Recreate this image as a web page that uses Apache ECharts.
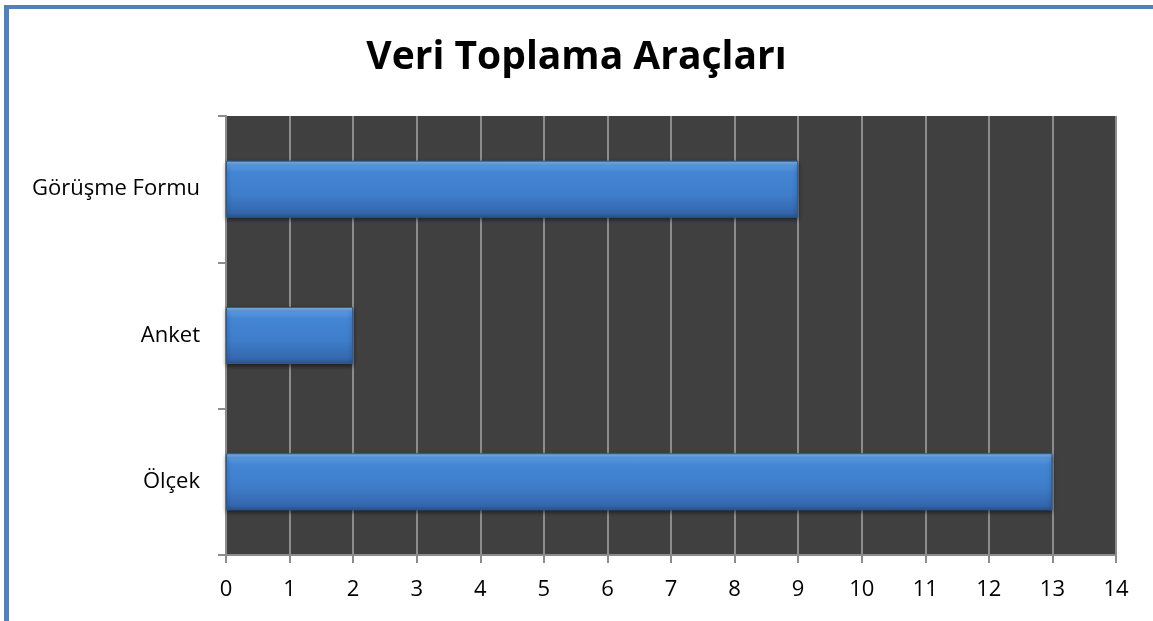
<!DOCTYPE html>
<html>
<head>
<meta charset="utf-8">
<script src="https://cdn.jsdelivr.net/npm/echarts@6/dist/echarts.min.js"></script>
<style>
  html, body { margin: 0; padding: 0; background: #fff; }
  #frame { position: absolute; left: 4px; top: 5px; width: 1149px; height: 616px;
           border-left: 5px solid #4f81bd; border-top: 4px solid #4f81bd; box-sizing: border-box; }
  #chart { position: absolute; left: 0; top: 0; width: 1153px; height: 621px; }
</style>
</head>
<body>
<div id="frame"></div>
<div id="chart"></div>
<script>
  // kategoriler alttan üste
  const categories = ['Ölçek', 'Anket', 'Görüşme Formu'];
  const values = [13, 2, 9];
  const xTicks = [0, 1, 2, 3, 4, 5, 6, 7, 8, 9, 10, 11, 12, 13, 14];

  const chart = echarts.init(document.getElementById('chart'));
  const option = {
    animation: false,
    title: {
      text: 'Veri Toplama Araçları',
      left: 'center',
      top: 33,
      textStyle: { fontFamily: 'Open Sans', fontWeight: 'bold', fontSize: 39, color: '#000' }
    },
    grid: { left: 226, top: 116, right: 37, bottom: 66, backgroundColor: '#404040', show: true, borderWidth: 0 },
    xAxis: {
      type: 'value',
      min: 0, max: 14, interval: 1,
      axisLine: { show: true, lineStyle: { color: '#8c8c8c', width: 2 } },
      axisTick: { show: true, length: 8, lineStyle: { color: '#8c8c8c', width: 2 } },
      splitLine: { show: true, lineStyle: { color: '#8c8c8c', width: 2 } },
      axisLabel: {
        margin: 24, fontSize: 22, fontFamily: 'Open Sans', color: '#000',
        formatter: v => String(xTicks[v])
      }
    },
    yAxis: {
      type: 'category',
      data: categories,
      axisLine: { show: true, lineStyle: { color: '#8c8c8c', width: 2 } },
      axisTick: { show: true, length: 8, lineStyle: { color: '#8c8c8c', width: 2 } },
      axisLabel: { margin: 26, fontSize: 22, fontFamily: 'Open Sans', color: '#000' }
    },
    series: [{
      type: 'bar',
      data: values,
      barWidth: '39%',
      itemStyle: {
        color: new echarts.graphic.LinearGradient(0, 0, 0, 1, [
          { offset: 0, color: '#8cc0f4' },
          { offset: 0.08, color: '#5b9be3' },
          { offset: 0.2, color: '#4486d4' },
          { offset: 0.6, color: '#3e7dca' },
          { offset: 0.9, color: '#3468ae' },
          { offset: 1, color: '#2a5690' }
        ]),
        borderColor: '#2b5a96',
        borderWidth: 1,
        shadowColor: 'rgba(0,0,0,0.5)',
        shadowBlur: 4,
        shadowOffsetY: 2
      }
    }]
  };
  chart.setOption(option);
</script>
</body>
</html>
